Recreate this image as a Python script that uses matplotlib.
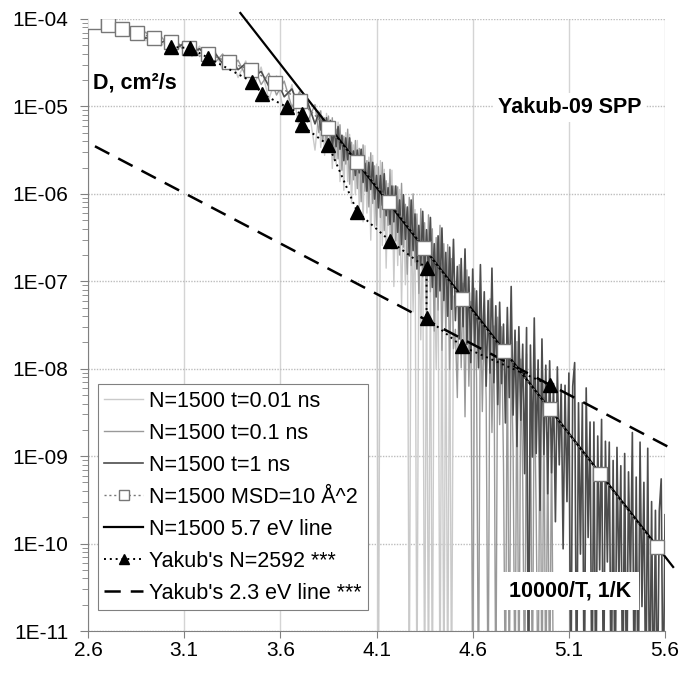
import numpy as np
import matplotlib
matplotlib.use('Agg')
import matplotlib.pyplot as plt
from matplotlib.ticker import LogLocator, FixedLocator, FuncFormatter, NullFormatter

plt.rcParams['font.family'] = ['Liberation Sans', 'DejaVu Sans']

# x sampling of the N=1500 runs: coarse where the curves are smooth, fine where noisy
x_smooth = np.round(np.arange(2.62, 3.79, 0.04), 2)
x_fine = np.round(np.arange(3.80, 5.605, 0.01), 2)
x_runs = np.concatenate([x_smooth, x_fine])

# log10(D); -12 marks points that drop below the axis
logD_001ns = [
    -4.00, -4.09, -4.04, -4.14, -4.08, -4.19, -4.12, -4.25, -4.17, -4.31,
    -4.21, -4.37, -4.25, -4.43, -4.31, -4.50, -4.36, -4.58, -4.42, -4.67,
    -4.48, -4.78, -4.55, -4.92, -4.65, -5.09, -4.75, -5.28, -4.90, -5.50,
    -5.05, -5.47, -5.11, -5.56, -5.08, -5.51, -5.18, -5.71, -5.21, -5.66,
    -5.18, -5.86, -5.33, -5.96, -5.30, -5.86, -5.32, -6.11, -5.44, -6.01,
    -5.39, -6.16, -5.49, -6.32, -5.45, -6.22, -5.58, -6.53, -5.56, -6.38,
    -5.66, -12, -5.62, -6.59, -5.72, -6.85, -5.88, -6.60, -5.73, -7.06,
    -5.94, -6.82, -5.95, -7.28, -6.16, -7.04, -6.17, -12, -6.17, -7.35,
    -6.18, -12, -6.44, -7.67, -6.40, -12, -6.61, -12, -6.62, -12,
    -6.77, -8.00, -6.78, -12, -6.79, -12, -6.95, -12, -6.96, -12, -7.17]

logD_01ns = [
    -4.05, -4.02, -4.11, -4.06, -4.16, -4.11, -4.21, -4.15, -4.27, -4.20,
    -4.31, -4.25, -4.37, -4.29, -4.43, -4.35, -4.50, -4.40, -4.58, -4.47,
    -4.65, -4.53, -4.75, -4.62, -4.87, -4.71, -5.01, -4.83, -5.18, -4.98,
    -5.30, -5.05, -5.39, -5.13, -5.48, -5.11, -5.40, -5.13, -5.61, -5.26,
    -5.60, -5.21, -5.73, -5.34, -5.66, -5.26, -5.89, -5.41, -5.84, -5.39,
    -5.94, -5.48, -6.09, -5.44, -5.97, -5.62, -6.15, -5.53, -6.11, -5.68,
    -6.36, -5.69, -6.27, -5.64, -6.42, -5.85, -6.36, -5.72, -6.63, -5.91,
    -6.54, -5.92, -6.70, -5.88, -6.61, -6.12, -6.92, -6.04, -6.82, -6.00,
    -6.78, -6.23, -7.14, -6.17, -6.95, -6.33, -7.36, -6.24, -7.12, -6.40,
    -7.57, -6.50, -7.33, -6.36, -7.79, -6.57, -7.55, -6.58, -8.01, -6.74,
    -7.77, -7.55, -8.33, -6.81, -7.99, -7.02, -8.55, -6.87, -8.20, -7.23,
    -12, -7.08, -8.11, -12, -7.11, -8.49, -7.32, -8.35, -12, -7.20,
    -8.73, -7.51, -12, -7.41, -8.64, -7.52, -9.09, -12, -7.50, -12,
    -7.71, -8.93, -12, -7.69, -12, -7.89, -9.27, -12, -7.83, -12,
    -8.08, -12, -7.99, -9.67, -12, -8.12, -12, -8.33, -12, -8.73,
    -12, -8.69, -12]

logD_1ns = [
    -4.02, -4.07, -4.05, -4.12, -4.10, -4.17, -4.14, -4.22, -4.19, -4.27,
    -4.23, -4.33, -4.28, -4.38, -4.34, -4.44, -4.39, -4.51, -4.46, -4.58,
    -4.51, -4.66, -4.60, -4.77, -4.69, -4.89, -4.80, -5.02, -4.94, -5.20,
    -5.07, -5.27, -5.14, -5.33, -5.13, -5.32, -5.16, -5.45, -5.27, -5.46,
    -5.23, -5.49, -5.33, -5.62, -5.36, -5.61, -5.36, -5.68, -5.51, -5.79,
    -5.50, -5.76, -5.49, -5.87, -5.65, -5.97, -5.64, -5.95, -5.64, -6.06,
    -5.79, -6.16, -5.79, -6.13, -5.77, -6.25, -5.93, -6.35, -5.91, -6.32,
    -5.91, -6.44, -6.07, -6.58, -6.01, -6.52, -6.15, -6.71, -6.07, -6.65,
    -6.23, -6.86, -6.36, -6.82, -6.20, -6.93, -6.41, -6.89, -6.27, -7.07,
    -6.57, -7.18, -6.48, -7.11, -6.39, -7.22, -6.67, -7.40, -6.61, -7.32,
    -6.52, -7.45, -6.83, -7.66, -6.74, -7.52, -6.63, -7.72, -6.95, -7.93,
    -6.86, -7.73, -7.11, -7.99, -6.81, -7.89, -7.12, -8.20, -7.22, -8.05,
    -6.85, -8.16, -7.28, -8.41, -7.24, -8.17, -7.49, -8.62, -7.30, -8.33,
    -7.06, -8.53, -7.56, -8.89, -7.52, -8.59, -7.72, -9.20, -7.53, -12,
    -7.73, -9.01, -7.42, -8.97, -7.90, -9.62, -7.66, -8.98, -7.96, -9.43,
    -7.91, -9.19, -8.17, -9.75, -7.98, -9.10, -8.18, -10.06, -8.19, -9.52,
    -8.05, -12, -8.20, -7.93, -12, -8.39, -10.12, -8.39, -12, -8.22,
    -9.93, -8.61, -12, -8.61, -12, -8.77, -10.30, -8.58, -12, -8.83,
    -10.21, -8.84, -12, -9.05, -12, -8.90, -10.48, -9.11, -12, -8.97,
    -12, -9.18, -10.45, -8.73, -12, -9.24, -12, -8.84, -10.72, -9.30,
    -12, -8.91, -12, -9.52, -12, -9.62, -12, -9.63, -9.26, -12, -9.67]

# MSD = 10 A^2 points
T_msd = [3800, 3700, 3600, 3500, 3400, 3300, 3200, 3100, 3000, 2900, 2800,
         2700, 2600, 2500, 2400, 2300, 2200, 2100, 2000, 1900, 1800]
D_msd = [9.2e-5, 8.5e-5, 7.7e-5, 6.9e-5, 6.1e-5, 5.5e-5, 4.7e-5, 4.0e-5,
         3.2e-5, 2.6e-5, 1.85e-5, 1.15e-5, 5.7e-6, 2.3e-6, 8.1e-7, 2.4e-7,
         6.3e-8, 1.6e-8, 3.45e-9, 6.2e-10, 9.1e-11]

# Yakub's N=2592 points
x_yak = [3.03, 3.13, 3.225, 3.455, 3.505, 3.635, 3.71, 3.71, 3.85, 4.0,
         4.17, 4.36, 4.36, 4.545, 5.0]
D_yak = [4.8e-5, 4.65e-5, 3.6e-5, 1.9e-5, 1.39e-5, 9.8e-6, 8.2e-6, 6.1e-6,
         3.6e-6, 6.2e-7, 2.9e-7, 1.42e-7, 3.8e-8, 1.8e-8, 6.5e-9]

# activation lines (end points)
x_57 = [3.392, 5.642]
D_57 = [1.17e-4, 5.4e-11]
x_23 = [2.636, 5.631]
D_23 = [3.5e-6, 1.23e-9]

xticks = [2.6, 3.1, 3.6, 4.1, 4.6, 5.1, 5.6]
yticks = [1e-11, 1e-10, 1e-9, 1e-8, 1e-7, 1e-6, 1e-5, 1e-4]

fig = plt.figure(figsize=(6.84, 6.73), dpi=100)
ax = fig.add_axes([0.1287, 0.0624, 0.8436, 0.9094])
ax.set_yscale('log')

h1, = ax.plot(x_runs[:len(logD_001ns)], 10.0 ** np.array(logD_001ns),
              color='#cacaca', lw=1.0, zorder=2, label='N=1500 t=0.01 ns')
h2, = ax.plot(x_runs[:len(logD_01ns)], 10.0 ** np.array(logD_01ns),
              color='#999999', lw=1.0, zorder=2.2, label='N=1500 t=0.1 ns')
h3, = ax.plot(x_runs[:len(logD_1ns)], 10.0 ** np.array(logD_1ns),
              color='#4d4d4d', lw=1.2, zorder=2.4, label='N=1500 t=1 ns')

h5, = ax.plot(x_57, D_57, color='black', lw=1.6, zorder=4, clip_on=False,
              label='N=1500 5.7 eV line')
h7, = ax.plot(x_23, D_23, color='black', lw=1.8, dashes=(6.5, 4), zorder=4,
              clip_on=False, label="Yakub's 2.3 eV line ***")
h4, = ax.plot(1e4 / np.array(T_msd), D_msd, color='#777777', lw=1.0,
              ls=(0, (1.5, 2)), marker='s', ms=9.5, mfc='white',
              mec='#777777', mew=1.0, zorder=5, label='N=1500 MSD=10 Å^2')
h6, = ax.plot(x_yak, D_yak, color='black', lw=1.4, ls=(0, (1, 2)),
              marker='^', ms=10, mfc='black', mec='black', zorder=6,
              label="Yakub's N=2592 ***")

ax.set_xlim(2.6, 5.6)
ax.set_ylim(1e-11, 1e-4)
ax.set_xticks(xticks)
ax.set_xticklabels([f'{v:.1f}' for v in xticks])
ax.yaxis.set_major_locator(FixedLocator(yticks))
ax.yaxis.set_minor_locator(LogLocator(base=10, subs=np.arange(2, 10), numticks=20))
ax.yaxis.set_major_formatter(FuncFormatter(lambda v, _: f'1E-{-int(round(np.log10(v))):02d}'))
ax.yaxis.set_minor_formatter(NullFormatter())

ax.tick_params(axis='both', which='major', labelsize=15, color='#808080', direction='out')
ax.tick_params(axis='y', which='major', length=6, pad=8)
ax.tick_params(axis='y', which='minor', length=4, color='#808080')
ax.tick_params(axis='x', which='major', length=5, pad=2)

ax.grid(axis='x', color='#d4d4d4', lw=1.0, ls='-')
ax.grid(axis='y', which='major', color='#bdbdbd', lw=1.0, ls=(0, (1, 1)))
ax.set_axisbelow(True)
for s in ['top', 'right']:
    ax.spines[s].set_visible(False)
for s in ['left', 'bottom']:
    ax.spines[s].set_color('#808080')

ax.text(0.009, 0.895, 'D, cm²/s', transform=ax.transAxes, fontsize=15.5,
        fontweight='bold', ha='left', va='center', zorder=8)
ax.text(0.835, 0.856, 'Yakub-09 SPP', transform=ax.transAxes, fontsize=15.5,
        fontweight='bold', ha='center', va='center', zorder=8,
        bbox=dict(fc='white', ec='none', pad=3))
ax.text(0.835, 0.065, '10000/T, 1/K', transform=ax.transAxes, fontsize=15.5,
        fontweight='bold', ha='center', va='center', zorder=8,
        bbox=dict(fc='white', ec='none', pad=6))

leg = ax.legend(handles=[h1, h2, h3, h4, h5, h6, h7], loc='lower left',
                bbox_to_anchor=(0.0173, 0.0343), borderaxespad=0, fontsize=15.5,
                frameon=True, fancybox=False, edgecolor='#808080', framealpha=1,
                handlelength=1.8, handletextpad=0.25, labelspacing=0.51,
                borderpad=0.3, numpoints=1, markerscale=0.75)
leg.get_frame().set_linewidth(0.8)
leg.set_zorder(10)

fig.savefig('out.png', dpi=100)
